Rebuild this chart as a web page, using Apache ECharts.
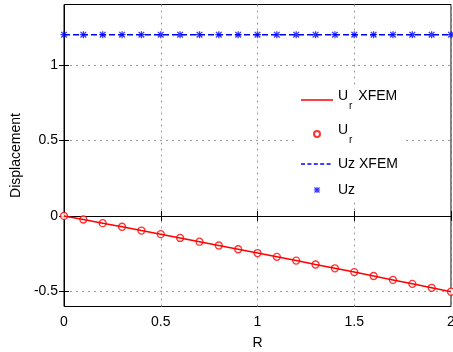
<!DOCTYPE html>
<html><head><meta charset="utf-8">
<script src="https://cdn.jsdelivr.net/npm/echarts@6/dist/echarts.min.js"></script>
<style>html,body{margin:0;padding:0;background:#fff}#c{width:453px;height:352px}</style>
</head><body><div id="c"></div>
<script>
const R = [0,0.1,0.2,0.3,0.4,0.5,0.6,0.7,0.8,0.9,1.0,1.1,1.2,1.3,1.4,1.5,1.6,1.7,1.8,1.9,2.0];
const urXfem = [0,-0.024,-0.048,-0.072,-0.097,-0.121,-0.146,-0.171,-0.196,-0.221,-0.246,-0.271,-0.296,-0.322,-0.347,-0.372,-0.398,-0.424,-0.45,-0.476,-0.502];
const urExact = [0,-0.024,-0.048,-0.072,-0.097,-0.121,-0.146,-0.171,-0.196,-0.221,-0.246,-0.271,-0.296,-0.322,-0.347,-0.372,-0.398,-0.424,-0.45,-0.476,-0.502];
const uzXfem = [1.2,1.2,1.2,1.2,1.2,1.2,1.2,1.2,1.2,1.2,1.2,1.2,1.2,1.2,1.2,1.2,1.2,1.2,1.2,1.2,1.2];
const uzExact = [1.2,1.2,1.2,1.2,1.2,1.2,1.2,1.2,1.2,1.2,1.2,1.2,1.2,1.2,1.2,1.2,1.2,1.2,1.2,1.2,1.2];
const xTicks = [0,0.5,1,1.5,2];
const yTicks = [-0.5,0,0.5,1];
const names = ['Ur XFEM','Ur','Uz XFEM','Uz'];
const legendLabels = {'Ur XFEM':'{a|U}{s|r}{a|\u00a0XFEM}','Ur':'{a|U}{s|r}','Uz XFEM':'{b|Uz XFEM}','Uz':'{b|Uz}'};

const pair = (xs, ys) => xs.map((x,i)=>[x, ys[i]]);
const font = 'Liberation Sans, Arial, sans-serif';

// symbol paths (shapes only, not data)
const starRects = [[0,4.1,10,4.1,10,5.9,0,5.9],[4.1,0,5.9,0,5.9,10,4.1,10],
  [1.6,0.3,9.7,8.4,8.4,9.7,0.3,1.6],[8.4,0.3,9.7,1.6,1.6,9.7,0.3,8.4]];
function polyPath(rects, sc, dx, dy){
  return rects.map(r=>{
    let s='';
    for(let i=0;i<r.length;i+=2){ s += (i===0?'M':'L') + (r[i]*sc+dx).toFixed(2)+','+(r[i+1]*sc+dy).toFixed(2)+' '; }
    return s+'Z';
  }).join(' ');
}
const IW = 32, IH = 10;
const starSymbol = 'path://' + polyPath(starRects,1,0,0);
const box = 'M0,0 M'+IW+','+IH+' ';
const starIcon = 'path://' + box + polyPath(starRects,0.62,IW/2-3.1,IH/2-3.1);
const lineIcon = 'path://' + box + 'M0,4.25 L'+IW+',4.25 L'+IW+',5.75 L0,5.75 Z';
let dashes = '';
for(let x=0;x<IW;x+=6.4){ const e=Math.min(x+4,IW); dashes += 'M'+x.toFixed(1)+',4.3 L'+e.toFixed(1)+',4.3 L'+e.toFixed(1)+',5.7 L'+x.toFixed(1)+',5.7 Z '; }
const dashIcon = 'path://' + box + dashes;
const circIcon = 'path://' + box + 'M'+(IW/2-3)+',5 a3,3 0 1,0 6,0 a3,3 0 1,0 -6,0 Z';

const chart = echarts.init(document.getElementById('c'), null, {renderer:'canvas'});
const fmt = v => (Math.abs(v) < 1e-9 ? '0' : String(v));
chart.setOption({
  animation:false,
  grid:{left:64,right:2,top:4.5,bottom:45.5,show:true,borderColor:'#000',borderWidth:1,backgroundColor:'transparent',outerBoundsMode:'none',containLabel:false},
  xAxis:[{
    type:'value',min:0,max:2,interval:0.5,
    name:'R',nameLocation:'middle',nameGap:30,nameTextStyle:{fontFamily:font,fontSize:14,color:'#000'},
    axisLine:{show:true,lineStyle:{color:'#000'}},
    axisTick:{show:true,inside:true,length:5,lineStyle:{color:'#000'}},
    axisLabel:{fontFamily:font,fontSize:14,color:'#000',margin:9,formatter:fmt},
    splitLine:{show:true,lineStyle:{color:'#999',type:[2,4],width:1}}
  },{
    type:'value',min:0,max:2,interval:0.5,position:'top',
    axisLine:{show:false},axisTick:{show:true,inside:true,length:5,lineStyle:{color:'#000'}},
    axisLabel:{show:false},splitLine:{show:false}
  }],
  yAxis:[{
    type:'value',min:-0.6,max:1.4,
    name:'Displacement',nameLocation:'middle',nameGap:40,nameTextStyle:{fontFamily:font,fontSize:14,color:'#000'},
    axisLine:{show:true,lineStyle:{color:'#000'}},
    axisTick:{show:true,inside:true,length:5,customValues:yTicks,lineStyle:{color:'#000'}},
    axisLabel:{fontFamily:font,fontSize:14,color:'#000',margin:6,customValues:yTicks,formatter:fmt},
    splitLine:{show:true,lineStyle:{color:'#999',type:[2,4],width:1}}
  },{
    type:'value',min:-0.6,max:1.4,position:'right',
    axisLine:{show:false},
    axisTick:{show:true,inside:true,length:5,customValues:yTicks,lineStyle:{color:'#000'}},
    axisLabel:{show:false},splitLine:{show:false}
  }],
  legend:{
    orient:'vertical',left:296,top:87,itemWidth:IW,itemHeight:IH,itemGap:12,
    backgroundColor:'#fff',padding:[2,4,2,4],
    data:[{name:'Ur XFEM',icon:lineIcon},{name:'Ur',icon:circIcon},{name:'Uz XFEM',icon:dashIcon},{name:'Uz',icon:starIcon}],
    formatter:n=>legendLabels[n],
    textStyle:{fontFamily:font,fontSize:14,color:'#000',
      rich:{
        a:{fontFamily:font,fontSize:14,color:'#000',lineHeight:18,verticalAlign:'top'},
        b:{fontFamily:font,fontSize:14,color:'#000',lineHeight:16},
        s:{fontFamily:font,fontSize:10,color:'#000',lineHeight:22,verticalAlign:'bottom',padding:[0,2,0,1]}
      }}
  },
  series:[
    {name:'Ur XFEM',type:'line',data:pair(R,urXfem),symbol:'none',lineStyle:{color:'#ff0000',width:1.5},itemStyle:{color:'#ff0000'}},
    {name:'Ur',type:'scatter',data:pair(R,urExact),symbol:'circle',symbolSize:7,itemStyle:{color:'#fff',borderColor:'#ff0000',borderWidth:1.3}},
    {name:'Uz XFEM',type:'line',data:pair(R,uzXfem),symbol:'none',lineStyle:{color:'#0000ff',width:1.5,type:[6,3]},itemStyle:{color:'#0000ff'}},
    {name:'Uz',type:'scatter',data:pair(R,uzExact),symbol:starSymbol,symbolSize:7,itemStyle:{color:'#0000ff'}}
  ]
});
</script></body></html>
